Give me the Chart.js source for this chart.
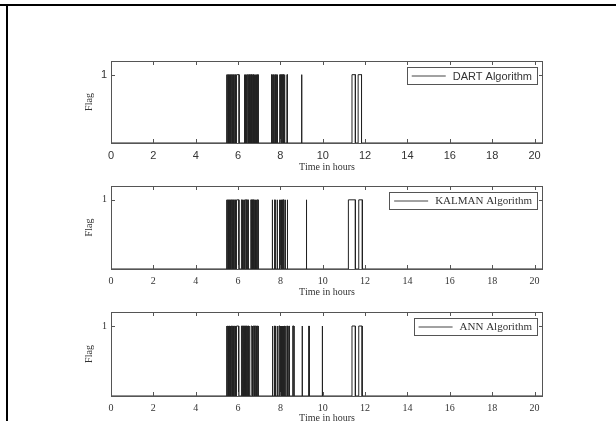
<!DOCTYPE html>
<html>
<head>
<meta charset="utf-8">
<script src="https://cdn.jsdelivr.net/npm/chart.js@4.4.0/dist/chart.umd.min.js"></script>
<style>
body { margin: 0; background: #fff; width: 616px; height: 421px; overflow: hidden; position: relative; }
#frameTop { position: absolute; left: 0; top: 4px; width: 616px; height: 2px; background: #000; }
#frameLeft { position: absolute; left: 6px; top: 4px; width: 2px; height: 417px; background: #000; }
canvas { position: absolute; left: 0; }
</style>
</head>
<body>
<div id="frameTop"></div>
<div id="frameLeft"></div>
<canvas id="dart" width="616" height="130" style="top:48px"></canvas>
<canvas id="kalman" width="616" height="130" style="top:173px"></canvas>
<canvas id="ann" width="616" height="130" style="top:299px"></canvas>
<script>
// axis ticks and range (hours)
const xTicks = [0, 2, 4, 6, 8, 10, 12, 14, 16, 18, 20];
const yTicks = [1];
const xMax = 20.4;

const labels = ['DART Algorithm', 'KALMAN Algorithm', 'ANN Algorithm'];

// flag pulses: rise time and fall time, in hours
const dartOn = [5.46, 5.49, 5.52, 5.55, 5.58, 5.61, 5.64, 5.67, 5.70, 5.73, 5.76, 5.79, 5.82, 5.85, 5.88, 5.91, 5.94,
    6.29, 6.34, 6.38, 6.44, 6.51, 6.55, 6.60, 6.66, 6.70, 6.76, 6.81, 6.86, 6.92,
    7.58, 7.68, 7.77, 7.84, 7.94, 7.98, 8.02, 8.07, 8.12, 8.18, 8.31,
    9.00, 11.38, 11.67];
const dartOff = [5.475, 5.505, 5.535, 5.565, 5.595, 5.625, 5.655, 5.685, 5.715, 5.745, 5.775, 5.805, 5.835, 5.865, 5.895, 5.925, 6.05,
    6.32, 6.36, 6.40, 6.47, 6.53, 6.57, 6.64, 6.68, 6.73, 6.79, 6.84, 6.88, 6.95,
    7.61, 7.70, 7.80, 7.87, 7.96, 8.00, 8.05, 8.10, 8.15, 8.21, 8.33,
    9.01, 11.54, 11.83];

const kalmanOn = [5.46, 5.49, 5.52, 5.55, 5.58, 5.61, 5.64, 5.67, 5.70, 5.73, 5.76, 5.79, 5.82, 5.85, 5.88, 5.91, 5.94,
    6.16, 6.21, 6.25, 6.30, 6.34, 6.45, 6.60, 6.65, 6.69, 6.74, 6.80, 6.85, 6.91,
    7.61, 7.73, 7.84, 7.94, 8.00, 8.04, 8.10, 8.22, 8.32,
    9.22, 11.21, 11.70];
const kalmanOff = [5.475, 5.505, 5.535, 5.565, 5.595, 5.625, 5.655, 5.685, 5.715, 5.745, 5.775, 5.805, 5.835, 5.865, 5.895, 5.925, 6.04,
    6.19, 6.23, 6.28, 6.32, 6.40, 6.48, 6.63, 6.67, 6.72, 6.76, 6.83, 6.87, 6.95,
    7.63, 7.75, 7.86, 7.97, 8.02, 8.06, 8.16, 8.24, 8.34,
    9.24, 11.54, 11.87];

const annOn = [5.46, 5.49, 5.52, 5.55, 5.58, 5.61, 5.64, 5.67, 5.70, 5.73, 5.76, 5.79, 5.82, 5.85, 5.88, 5.91, 5.94,
    6.16, 6.21, 6.26, 6.31, 6.36, 6.45, 6.49, 6.62, 6.68, 6.72, 6.78, 6.82, 6.91,
    7.62, 7.72, 7.84, 7.93, 8.00, 8.04, 8.09, 8.13, 8.20, 8.30, 8.40, 8.58,
    9.02, 9.34, 9.97, 11.38, 11.70];
const annOff = [5.475, 5.505, 5.535, 5.565, 5.595, 5.625, 5.655, 5.685, 5.715, 5.745, 5.775, 5.805, 5.835, 5.865, 5.895, 5.925, 6.03,
    6.19, 6.24, 6.29, 6.34, 6.41, 6.47, 6.52, 6.66, 6.70, 6.76, 6.80, 6.87, 6.95,
    7.64, 7.76, 7.86, 7.98, 8.02, 8.06, 8.11, 8.16, 8.22, 8.34, 8.42, 8.64,
    9.04, 9.36, 9.99, 11.54, 11.86];

const axisColor = '#555';
const textColor = '#333';
const sans = "'Liberation Sans', Arial, sans-serif";
const serif = "'Liberation Serif', 'Times New Roman', serif";

function pulsePoints(on, off) {
    const pts = [{x: 0, y: 0}];
    for (let i = 0; i < on.length; i++) {
        pts.push({x: on[i], y: 0}, {x: on[i], y: 1}, {x: off[i], y: 1}, {x: off[i], y: 0});
    }
    pts.push({x: xMax, y: 0});
    return pts;
}

// matlab style box: frame, inward ticks, boxed legend
const boxAxes = {
    id: 'boxAxes',
    afterDatasetsDraw(chart, args, opts) {
        const {ctx, chartArea: a, scales: {x, y}} = chart;
        ctx.save();
        ctx.strokeStyle = axisColor;
        ctx.lineWidth = 1;
        ctx.strokeRect(a.left + 0.5, a.top + 0.5, a.right - a.left - 1, a.bottom - a.top);
        ctx.beginPath();
        x.ticks.forEach(t => {
            const px = Math.round(x.getPixelForValue(t.value)) + 0.5;
            ctx.moveTo(px, a.bottom); ctx.lineTo(px, a.bottom - 4);
            ctx.moveTo(px, a.top); ctx.lineTo(px, a.top + 4);
        });
        y.ticks.forEach(t => {
            const py = Math.round(y.getPixelForValue(t.value)) + 0.5;
            ctx.moveTo(a.left, py); ctx.lineTo(a.left + 4, py);
            ctx.moveTo(a.right, py); ctx.lineTo(a.right - 4, py);
        });
        ctx.stroke();

        // legend
        const ds = chart.data.datasets[0];
        ctx.font = opts.size + 'px ' + opts.family;
        const tw = ctx.measureText(ds.label).width;
        const w = 5 + 34 + 7 + tw + 5, h = 17;
        const right = a.right - 6, top = a.top + 6;
        const left = right - w;
        ctx.fillStyle = '#fff';
        ctx.fillRect(left, top, w, h);
        ctx.strokeStyle = axisColor;
        ctx.strokeRect(Math.round(left) + 0.5, top + 0.5, Math.round(w), h);
        ctx.strokeStyle = '#444';
        ctx.beginPath();
        ctx.moveTo(left + 5, top + h / 2 + 0.5);
        ctx.lineTo(left + 39, top + h / 2 + 0.5);
        ctx.stroke();
        ctx.fillStyle = textColor;
        ctx.textBaseline = 'middle';
        ctx.fillText(ds.label, left + 46, top + h / 2 + 1);
        ctx.restore();
    }
};

function makeChart(id, label, on, off, tickFamily, tickSize, legendFamily, plotH) {
    return new Chart(document.getElementById(id), {
        type: 'line',
        data: {
            datasets: [{
                label: label,
                data: pulsePoints(on, off),
                borderColor: '#222',
                borderWidth: 1,
                pointRadius: 0,
                tension: 0
            }]
        },
        options: {
            responsive: false,
            animation: false,
            layout: { padding: { top: 13, left: 80, right: 73, bottom: 0 } },
            plugins: {
                legend: { display: false },
                tooltip: { enabled: false },
                boxAxes: { family: legendFamily, size: 11 }
            },
            scales: {
                x: {
                    type: 'linear',
                    min: 0,
                    max: xMax,
                    afterBuildTicks: s => { s.ticks = xTicks.map(v => ({value: v})); },
                    afterFit: s => { s.height = 130 - 13 - plotH; },
                    grid: { display: false, drawTicks: false },
                    border: { display: false },
                    ticks: { padding: 6, color: textColor, font: { family: tickFamily, size: tickSize }, maxRotation: 0 },
                    title: { display: true, text: 'Time in hours', color: textColor,
                        font: { family: serif, size: 10 }, padding: { top: 0, bottom: 5 } }
                },
                y: {
                    min: 0,
                    max: 1.2,
                    afterBuildTicks: s => { s.ticks = yTicks.map(v => ({value: v})); },
                    afterFit: s => { s.width = 31; },
                    grid: { display: false, drawTicks: false },
                    border: { display: false },
                    ticks: { padding: 4, color: textColor, font: { family: tickFamily, size: tickSize } },
                    title: { display: true, text: 'Flag', color: textColor,
                        font: { family: serif, size: 10 }, padding: { top: 3, bottom: 0 } }
                }
            }
        },
        plugins: [boxAxes]
    });
}

makeChart('dart', labels[0], dartOn, dartOff, sans, 11, sans, 82);
makeChart('kalman', labels[1], kalmanOn, kalmanOff, serif, 10, serif, 83);
makeChart('ann', labels[2], annOn, annOff, serif, 10, serif, 84);
</script>
</body>
</html>
